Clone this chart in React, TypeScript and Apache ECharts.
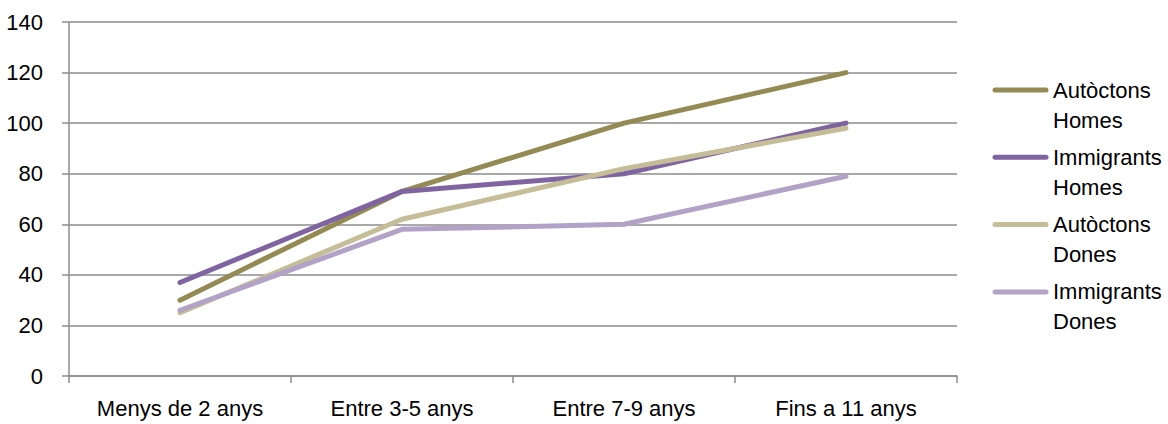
import React, { useEffect, useRef } from "react";
import * as echarts from "echarts";

const categories = ["Menys de 2 anys", "Entre 3-5 anys", "Entre 7-9 anys", "Fins a 11 anys"];
const seriesNames = ["Autòctons Homes", "Immigrants Homes", "Autòctons Dones", "Immigrants Dones"];
const autoctonsHomes = [30, 73, 100, 120];
const immigrantsHomes = [37, 73, 80, 100];
const autoctonsDones = [25, 62, 82, 98];
const immigrantsDones = [26, 58, 60, 79];
const seriesColors = ["#948A54", "#8064A2", "#C4BD97", "#B3A2C7"];

export default function App() {
  const ref = useRef<HTMLDivElement>(null);
  useEffect(() => {
    document.body.style.margin = "0";
    if (!ref.current) return;
    const chart = echarts.init(ref.current, null, { renderer: "svg" });
    const values = [autoctonsHomes, immigrantsHomes, autoctonsDones, immigrantsDones];
    const font = "'Liberation Sans', Arial, sans-serif";
    const legendTop = 90;
    const legendStep = 67.3;
    const legendElements: any[] = [];
    seriesNames.forEach((name, i) => {
      const y = legendTop + i * legendStep;
      legendElements.push({
        type: "line",
        shape: { x1: 995, y1: y, x2: 1046, y2: y },
        style: { stroke: seriesColors[i], lineWidth: 5, lineCap: "round" },
      });
      legendElements.push({
        type: "text",
        x: 1053,
        y: y - 15,
        style: {
          text: name.replace(" ", "\n"),
          fill: "#000",
          font: `22px ${font}`,
          fontSize: 22,
          fontFamily: font,
          lineHeight: 30,
          verticalAlign: "top",
          align: "left",
        },
      });
    });
    chart.setOption({
      animation: false,
      backgroundColor: "#ffffff",
      textStyle: { fontFamily: font },
      grid: { left: 69, right: 211, top: 22, bottom: 48, containLabel: false },
      graphic: legendElements,
      xAxis: {
        type: "category",
        data: categories,
        boundaryGap: true,
        axisLine: { show: true, lineStyle: { color: "#8c8c8c", width: 1.5 } },
        axisTick: { show: true, length: 7, alignWithLabel: false, lineStyle: { color: "#8c8c8c", width: 1.5 } },
        axisLabel: { color: "#000", fontSize: 22, fontFamily: font, margin: 21, interval: 0 },
        splitLine: { show: false },
      },
      yAxis: {
        type: "value",
        min: 0,
        max: 140,
        interval: 20,
        axisLine: { show: true, lineStyle: { color: "#8c8c8c", width: 1.5 } },
        axisTick: { show: true, length: 7, lineStyle: { color: "#8c8c8c", width: 1.5 } },
        axisLabel: { color: "#000", fontSize: 22, fontFamily: font, margin: 26 },
        splitLine: { show: true, lineStyle: { color: "#8c8c8c", width: 1.5 } },
      },
      series: seriesNames.map((name, i) => ({
        name,
        type: "line",
        data: values[i],
        symbol: "none",
        smooth: false,
        color: seriesColors[i],
        lineStyle: { color: seriesColors[i], width: 5, cap: "round", join: "round" },
        itemStyle: { color: seriesColors[i] },
      })),
    });
    return () => chart.dispose();
  }, []);
  return <div ref={ref} style={{ width: 1168, height: 424 }} />;
}
